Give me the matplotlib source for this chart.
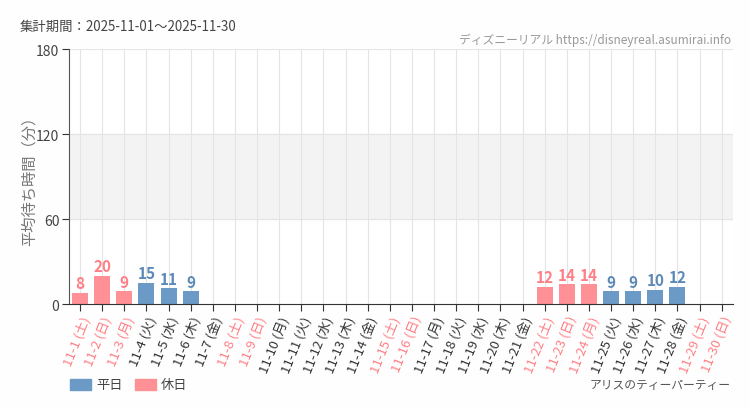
import matplotlib
matplotlib.use("Agg")
import matplotlib.pyplot as plt
from matplotlib.patches import Rectangle

plt.rcParams["font.family"] = ["Noto Sans CJK JP", "DejaVu Sans"]

days = [f"11-{d}" for d in range(1, 31)]
weekdays = ["土", "日", "月", "火", "水", "木", "金"]
day_names = [weekdays[i % 7] for i in range(30)]
holidays = [1, 2, 3, 8, 9, 15, 16, 22, 23, 24, 29, 30]
waits = [8, 20, 9, 15, 11, 9, None, None, None, None, None, None, None, None, None,
         None, None, None, None, None, None, 12, 14, 14, 9, 9, 10, 12, None, None]

BLUE = "#6b9ac6"
PINK = "#ff9096"
PINK_TXT = "#ff7f86"
DARK = "#333333"

fig = plt.figure(figsize=(7.5, 4.1), dpi=100)
ax = fig.add_axes([0.092, 0.256, 0.885, 0.622])

# 60〜120分の帯と格子
ax.axhspan(60, 120, color="#f3f3f3", zorder=0)
for y in (60, 120, 180):
    ax.axhline(y, color="#e4e4e4", lw=0.8, zorder=0.5)
for i in range(30):
    ax.axvline(i, color="#e4e4e4", lw=0.8, zorder=0.5)

for i, v in enumerate(waits):
    if v is None:
        continue
    hol = (i + 1) in holidays
    c = PINK if hol else BLUE
    ax.bar(i, v, width=0.72, color=c, zorder=2)
    ax.text(i, v + 1.2, str(v), ha="center", va="bottom", fontsize=11,
            fontweight="bold", color=PINK_TXT if hol else "#5b89b8")

ax.set_xlim(-0.5, 29.5)
ax.set_ylim(0, 180)
ax.set_yticks([0, 60, 120, 180])
ax.set_yticklabels(["0", "60", "120", "180"], fontsize=10, color="#444444")
ax.set_xticks(range(30))
labels = [f"{d} ({n})" for d, n in zip(days, day_names)]
ax.set_xticklabels(labels, rotation=68, ha="right", rotation_mode="anchor", fontsize=9.5)
for i, t in enumerate(ax.get_xticklabels()):
    t.set_color(PINK_TXT if (i + 1) in holidays else DARK)
ax.tick_params(axis="x", length=5, color=DARK, pad=2)
ax.tick_params(axis="y", length=5, color=DARK, pad=2)
for s in ("top", "right"):
    ax.spines[s].set_visible(False)
ax.spines["left"].set_color("#555555")
ax.spines["bottom"].set_color("#333333")
ax.set_ylabel("平均待ち時間（分）", fontsize=11, color="#777777", labelpad=-1)

fig.text(20 / 750, 1 - 27 / 410, "集計期間：2025-11-01〜2025-11-30", fontsize=9.6,
         color="#444444", va="center")
fig.text(731 / 750, 1 - 40 / 410, "ディズニーリアル https://disneyreal.asumirai.info",
         fontsize=8.5, color="#999999", ha="right", va="center")

# 凡例
fig.patches.append(Rectangle((70 / 750, 1 - 391 / 410), 21 / 750, 11 / 410,
                             transform=fig.transFigure, color=BLUE))
fig.text(96 / 750, 1 - 386 / 410, "平日", fontsize=9.5, color="#444444", va="center")
fig.patches.append(Rectangle((135 / 750, 1 - 391 / 410), 21 / 750, 11 / 410,
                             transform=fig.transFigure, color=PINK))
fig.text(161 / 750, 1 - 386 / 410, "休日", fontsize=9.5, color="#444444", va="center")
fig.text(731 / 750, 1 - 386 / 410, "アリスのティーパーティー", fontsize=8.5,
         color="#555555", ha="right", va="center")

fig.savefig("out.png", dpi=100, facecolor="#fdfefd")
